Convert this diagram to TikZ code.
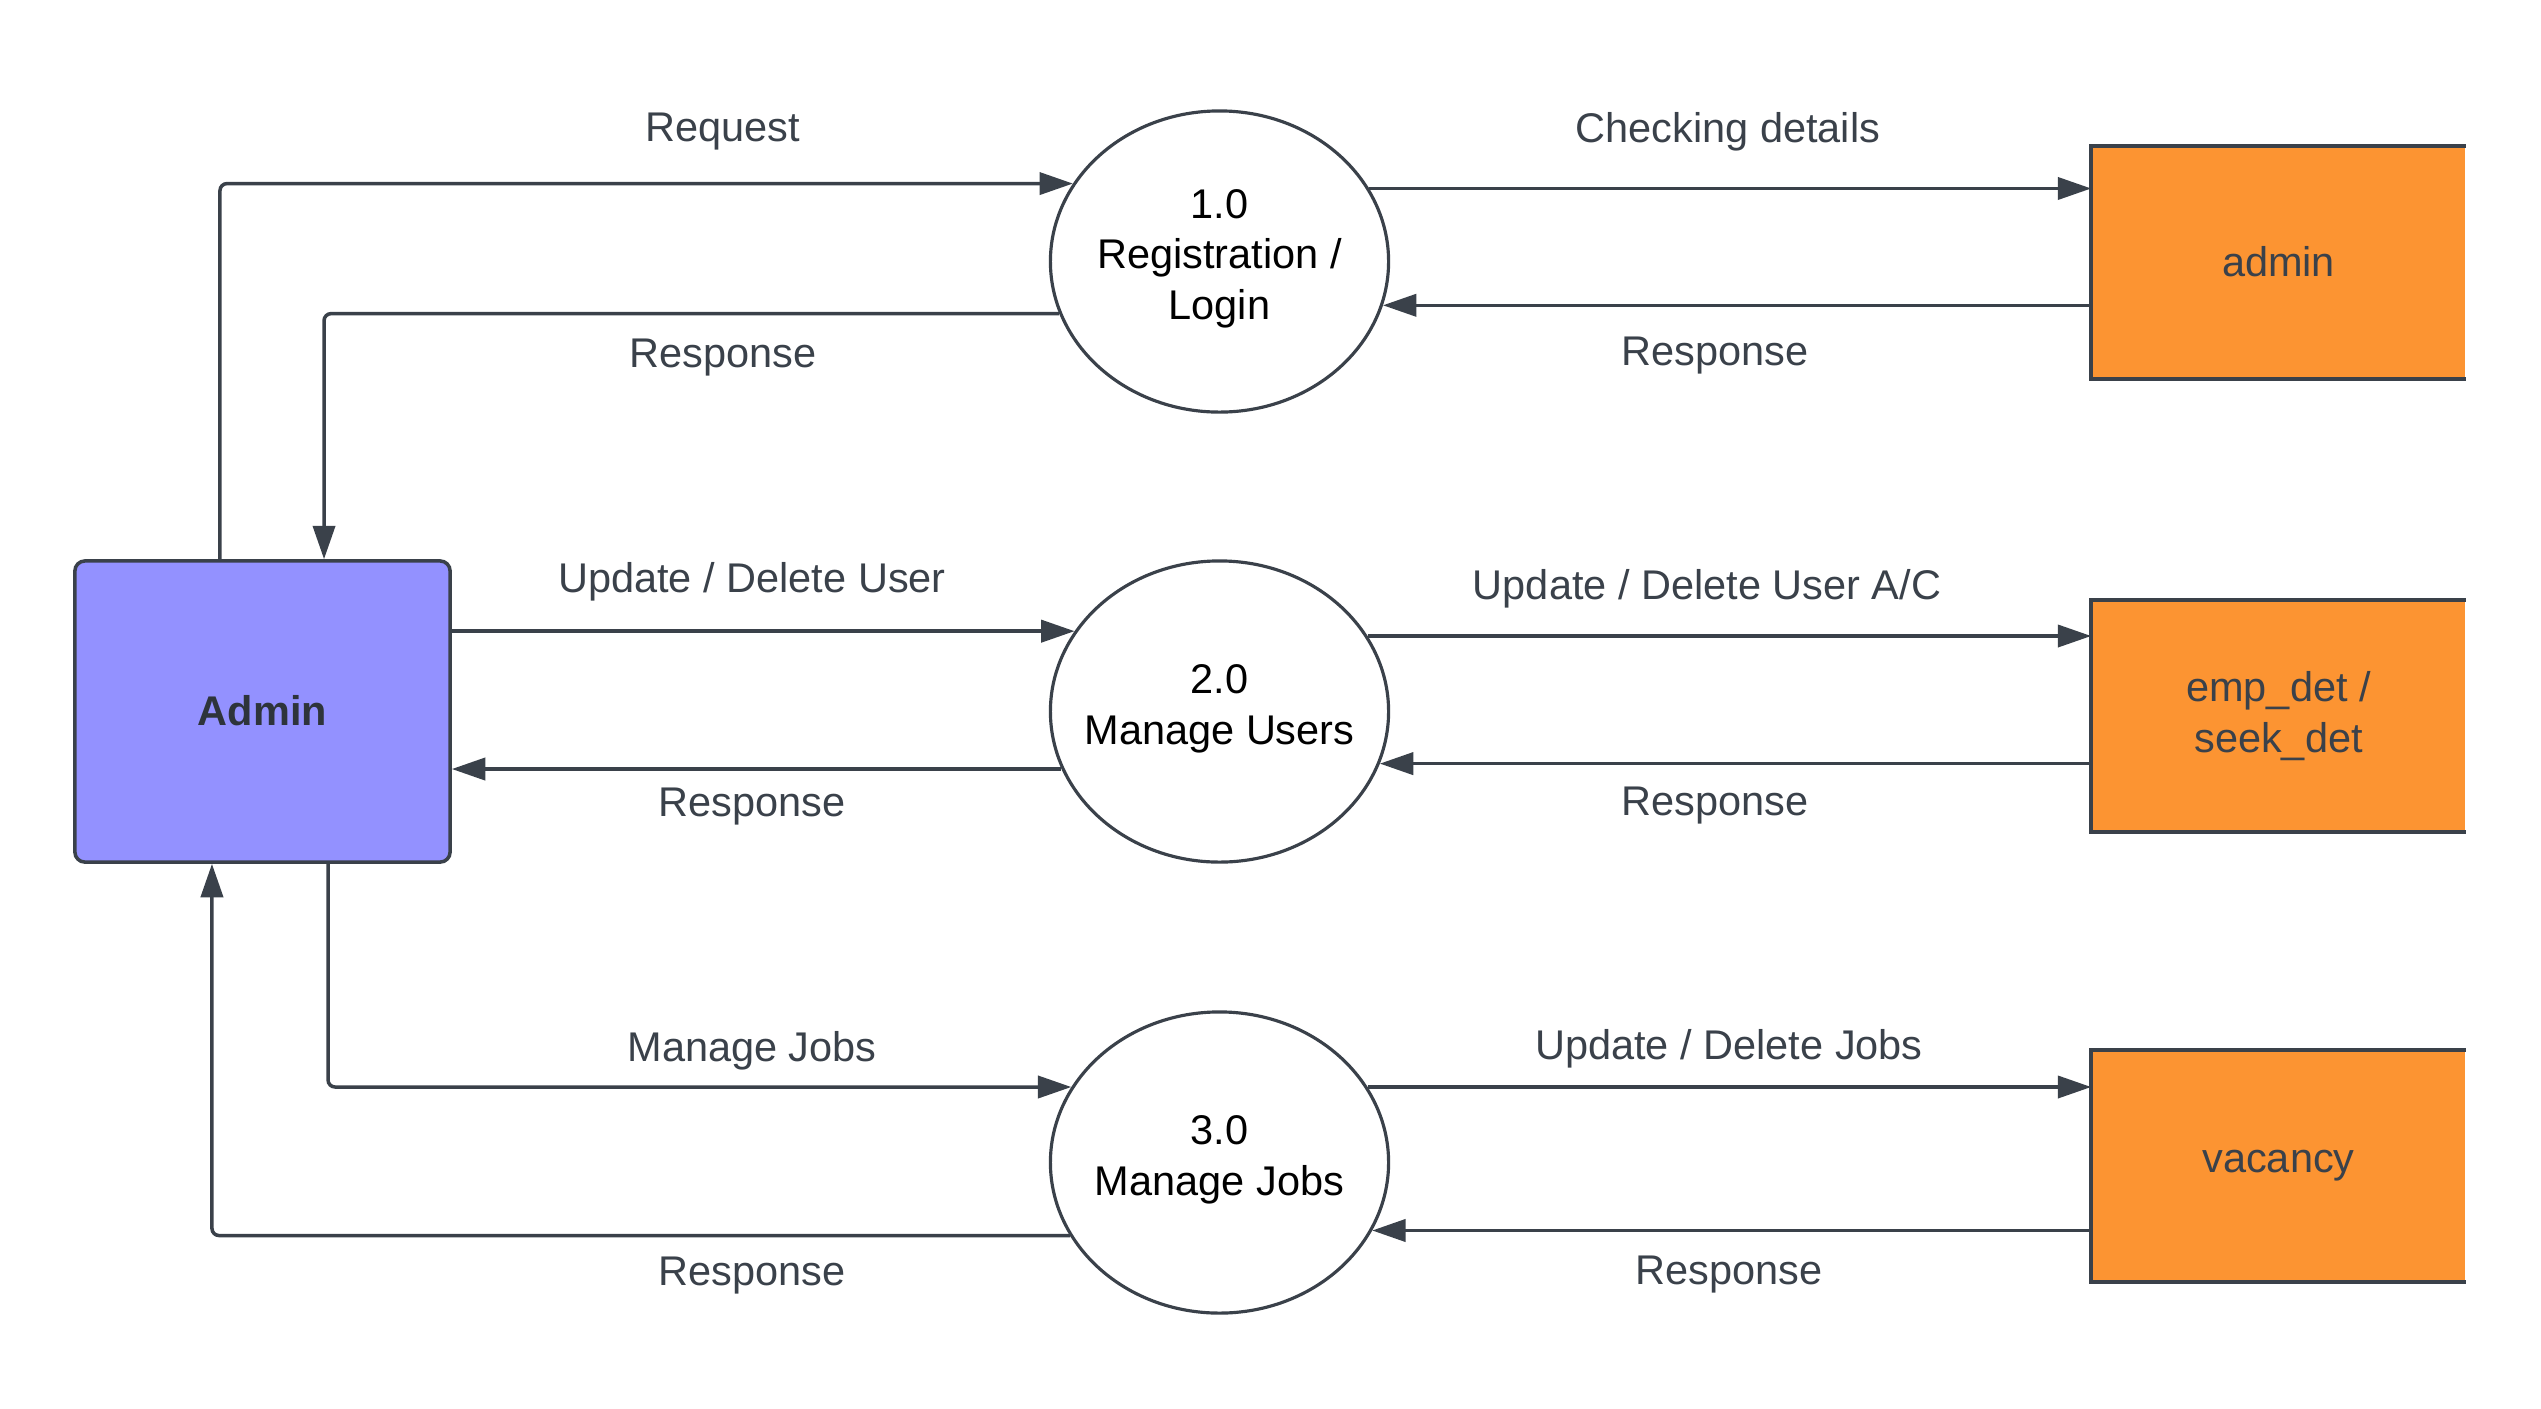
\documentclass[tikz,border=0pt]{standalone}
\usepackage{fontspec}
\setmainfont{Liberation Sans}
\usetikzlibrary{arrows.meta, shapes.geometric}
\definecolor{slate}{HTML}{3A414A}
\definecolor{periwinkle}{HTML}{9391FF}
\definecolor{tangerine}{HTML}{FC9432}

\tikzset{
    txt/.style={font=\fontsize{11.8pt}{14.4pt}\selectfont},
    process/.style={ellipse, draw=slate, line width=0.9pt, minimum width=3.38cm, minimum height=3.01cm, inner sep=0pt},
    ptext/.style={txt, align=center, text=black, yshift=0.03cm},
    entity/.style={rectangle, rounded corners=0.1cm, draw=slate, line width=1pt, fill=periwinkle, minimum width=3.75cm, minimum height=3.01cm, text=slate!80!black, font=\fontsize{11.8pt}{14.4pt}\selectfont\bfseries},
    store/.style={txt, rectangle, fill=tangerine, minimum width=3.73cm, minimum height=2.31cm, inner sep=0pt, align=center, text=slate},
    storeline/.style={draw=slate, line width=1.2pt},
    flow/.style={draw=slate, line width=1pt, rounded corners=2pt, -{Triangle[length=9.5pt, width=6.3pt]}},
    lbl/.style={txt, text=slate}
}

\begin{document}
\begin{tikzpicture}[x=0.01cm, y=-0.01cm]
            \useasboundingbox (0,0) rectangle (2541,1408);

            % entity, processes, stores
            \node[entity] (admin) at (262.5,711.5) {\raisebox{0.03cm}{Admin}};
            \node[process, label={[ptext]center:1.0\\Registration /\\Login}] (c1) at (1219.5,261.5) {};
            \node[process, label={[ptext]center:2.0\\Manage Users}] (c2) at (1219.5,711.5) {};
            \node[process, label={[ptext]center:3.0\\Manage Jobs}] (c3) at (1219.5,1162.5) {};
            \node[store] (s1) at (2278.5,262.5) {\raisebox{0.03cm}{admin}};
            \node[store] (s2) at (2278.5,716) {emp\_det /\\seek\_det};
            \node[store] (s3) at (2278.5,1166) {\raisebox{0.03cm}{vacancy}};
            \foreach \s in {s1, s2, s3}
                \draw[storeline] (\s.north east) -- (\s.north west) -- (\s.south west) -- (\s.south east);

            % flows
            \draw[flow] ([xshift=-0.425cm]admin.north) |- (c1.152.3);
            \draw[flow] (c1.198.3) -| ([xshift=0.615cm]admin.north);
            \draw[flow] (c1.26.6) -- (c1.26.6 -| s1.west);
            \draw[flow] (s1.west |- c1.-15) -- (c1.-15);
            \draw[flow] (admin.east |- c2.151.4) -- (c2.151.4);
            \draw[flow] (c2.200.6) -- (c2.200.6 -| admin.east);
            \draw[flow] (c2.27.7) -- (c2.27.7 -| s2.west);
            \draw[flow] (s2.west |- c2.-18.7) -- (c2.-18.7);
            \draw[flow] ([xshift=0.655cm]admin.south) |- (c3.153.5);
            \draw[flow] (c3.206.1) -| ([xshift=-0.505cm]admin.south);
            \draw[flow] (c3.27.3) -- (c3.27.3 -| s3.west);
            \draw[flow] (s3.west |- c3.-24.9) -- (c3.-24.9);

            % labels
            \node[lbl] (lreq) at (723,132) {Request};
            \node[lbl] (lres1) at (723,358) {Response};
            \node[lbl] (lchk) at (1728,132) {Checking details};
            \node[lbl] (lres2) at (1715,356) {Response};
            \node[lbl] (lupd) at (752,582) {Update / Delete User};
            \node[lbl] (lres3) at (752,807) {Response};
            \node[lbl] (lupdac) at (1707,589) {Update / Delete User A/C};
            \node[lbl] (lres4) at (1715,806) {Response};
            \node[lbl] (ljobs) at (752,1051) {Manage Jobs};
            \node[lbl] (lres5) at (752,1276) {Response};
            \node[lbl] (lupdj) at (1729,1049) {Update / Delete Jobs};
            \node[lbl] (lres6) at (1729,1275) {Response};
\end{tikzpicture}
\end{document}
